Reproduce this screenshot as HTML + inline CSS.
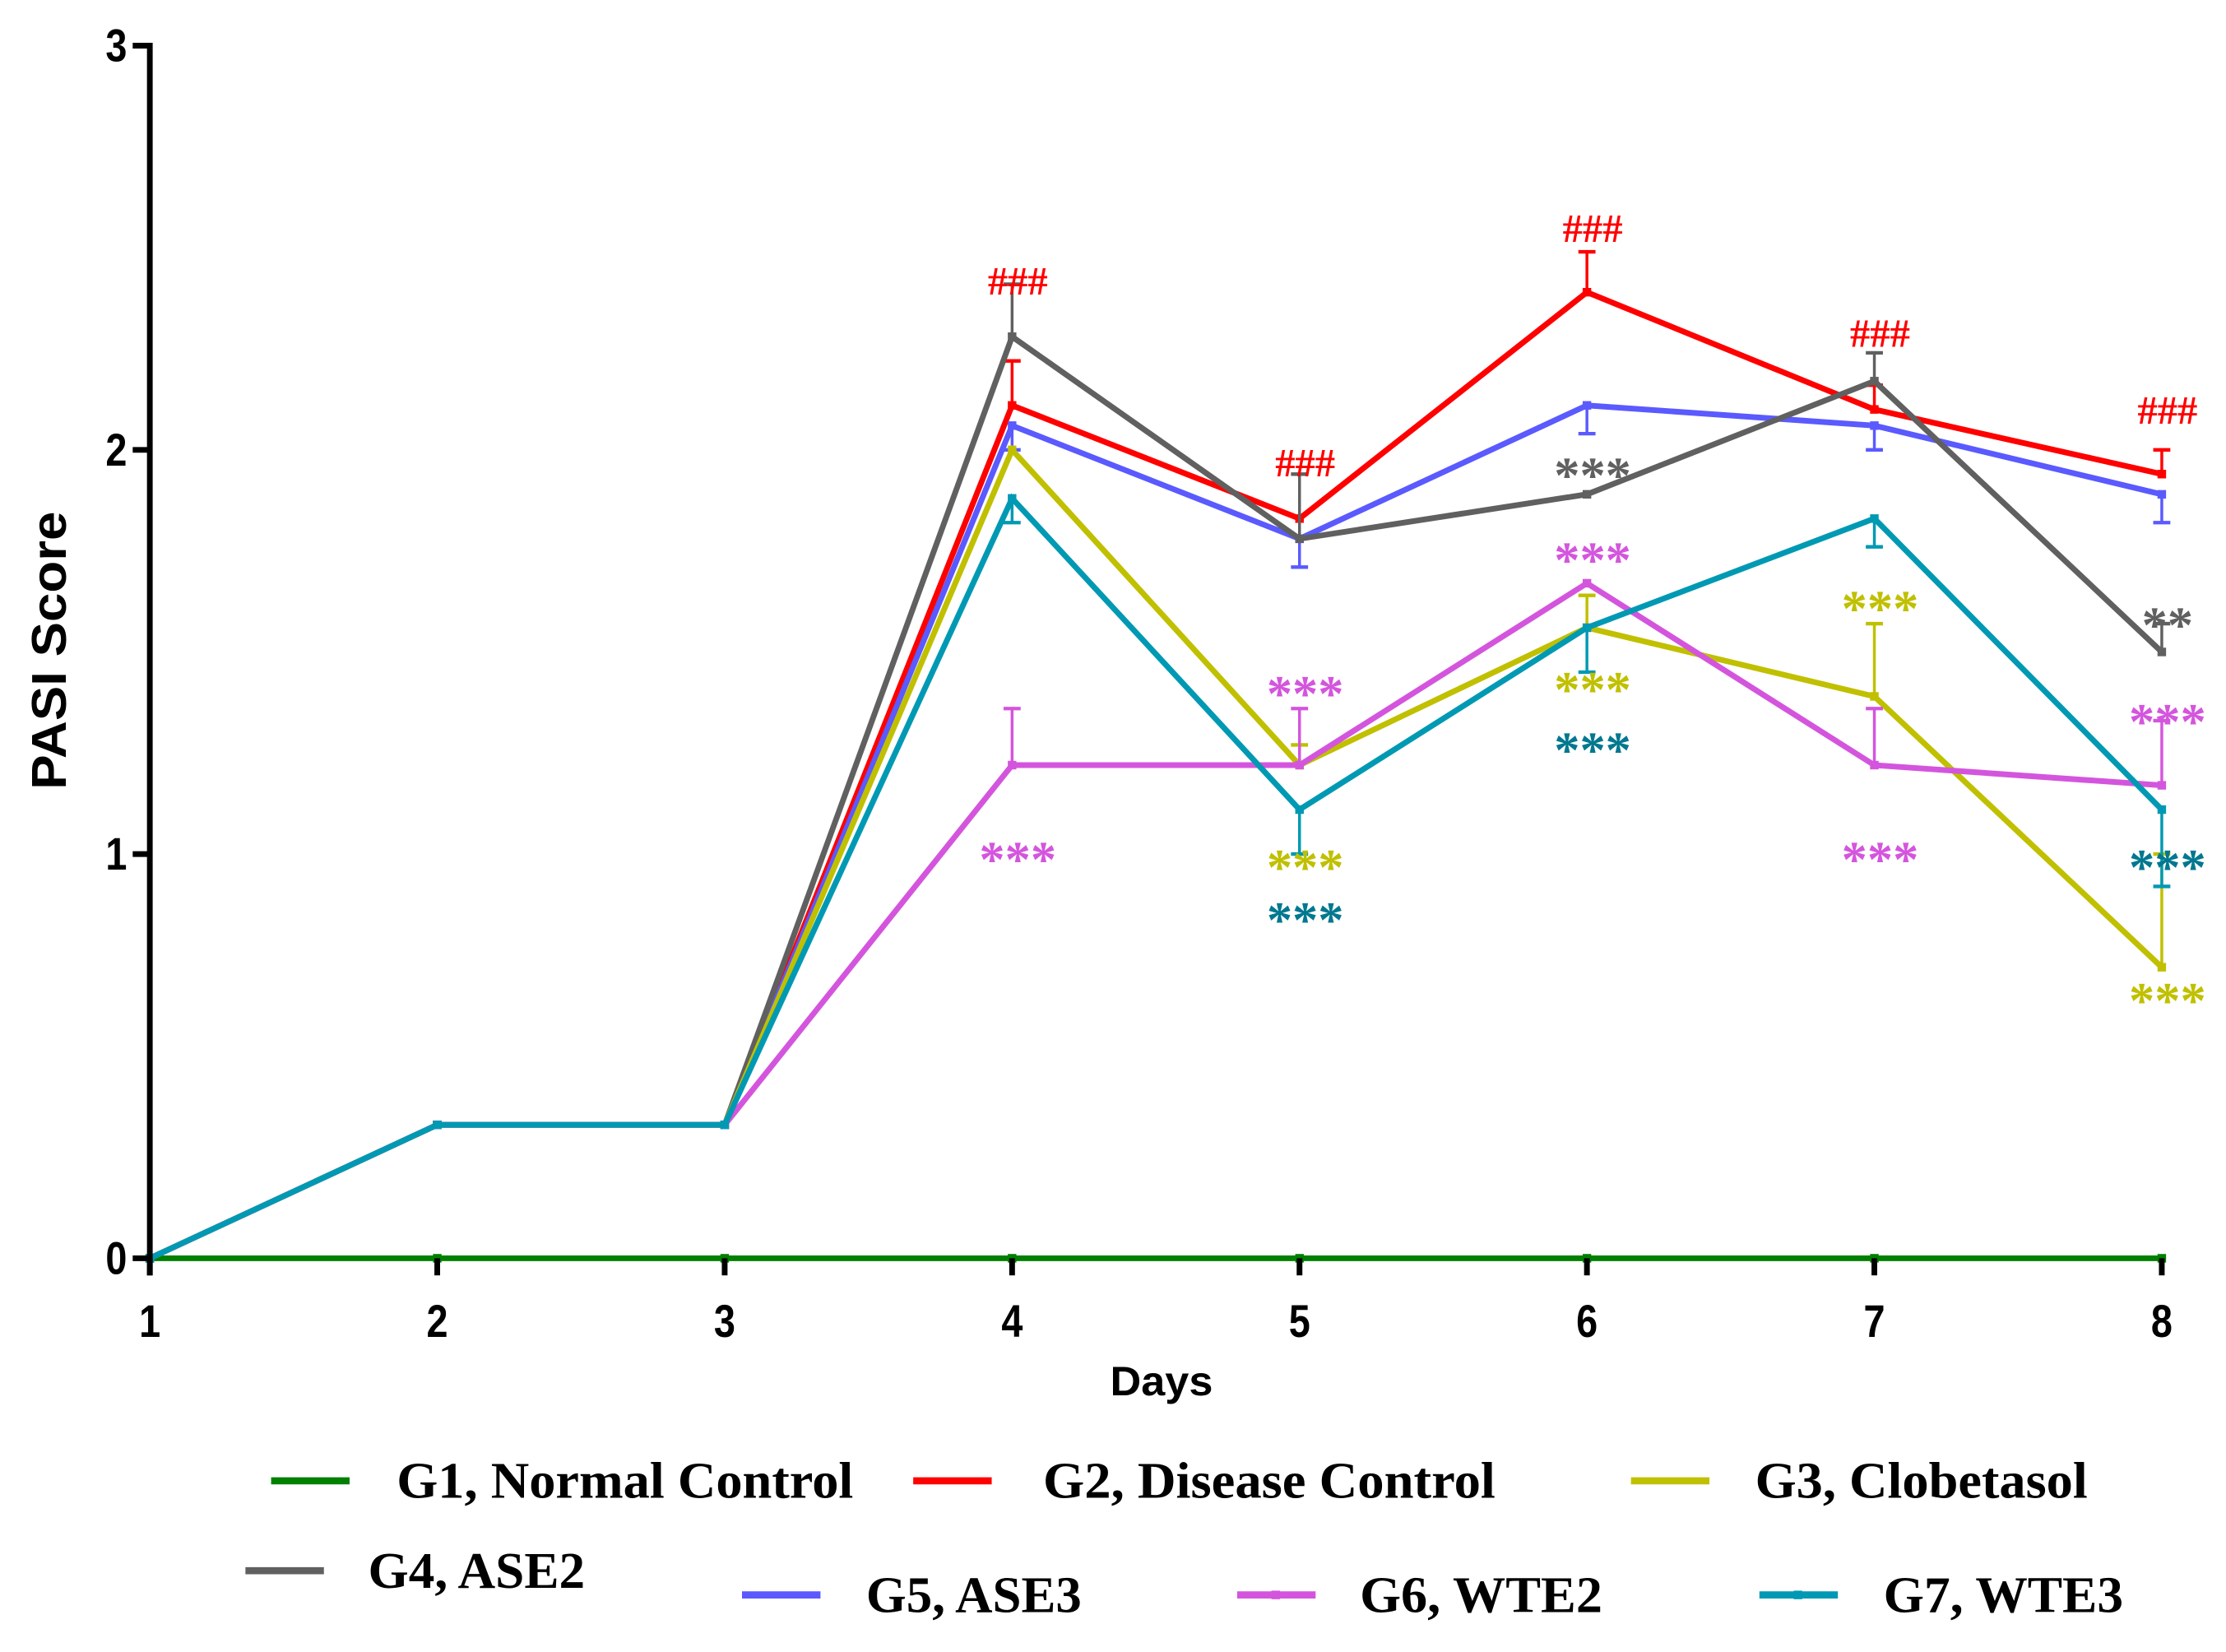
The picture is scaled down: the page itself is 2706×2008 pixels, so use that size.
<!DOCTYPE html>
<html><head><meta charset="utf-8"><style>
html,body{margin:0;padding:0;background:#fff;}
svg{display:block;}
</style></head><body>
<svg id="chart" width="2706" height="2008" viewBox="0 0 1560 1158" preserveAspectRatio="none" xmlns="http://www.w3.org/2000/svg">
<g id="plot"></g>
<g id="axes"></g>
<g id="annots"></g>
<g id="legend"></g>
</svg>
<script>
const days = [1,2,3,4,5,6,7,8];
const yTicks = [0,1,2,3];
const g1 = [0,0,0,0,0,0,0,0];
const g2 = [0,0.33,0.33,2.11,1.83,2.39,2.10,1.94];
const g3 = [0,0.33,0.33,2.00,1.22,1.56,1.39,0.72];
const g4 = [0,0.33,0.33,2.28,1.78,1.89,2.17,1.50];
const g5 = [0,0.33,0.33,2.06,1.78,2.11,2.06,1.89];
const g6 = [0,0.33,0.33,1.22,1.22,1.67,1.22,1.17];
const g7 = [0,0.33,0.33,1.88,1.11,1.56,1.83,1.11];
const g2err = [0,0,0,0.11,0,0.10,0.06,0.06];
const g3err = [0,0,0,0,0.05,0.08,0.18,0.28];
const g4err = [0,0,0,0.13,0.16,0,0.07,0.07];
const g5err = [0,0,0,-0.06,-0.07,-0.07,-0.06,-0.07];
const g6err = [0,0,0,0.14,0.14,0,0.14,0.16];
const g7err = [0,0,0,-0.06,-0.11,-0.11,-0.07,-0.19];
const seriesNames = ["G1, Normal Control","G2, Disease Control","G3, Clobetasol","G4, ASE2","G5, ASE3","G6, WTE2","G7, WTE3"];
const annotDay = [4,5,6,7,8, 6,8, 4,5,6,7,8, 5,6,7,8, 5,6,8];
const annotVal = [2.42,1.97,2.55,2.29,2.10, 1.93,1.56, 0.98,1.39,1.72,0.98,1.32, 0.96,1.40,1.60,0.63, 0.83,1.25,0.96];
const annotText = ["###","###","###","###","###", "***","**", "***","***","***","***","***", "***","***","***","***", "***","***","***"];
const annotSeries = [1,1,1,1,1, 3,3, 5,5,5,5,5, 2,2,2,2, 6,6,6];

const colors = ["#008000","#ff0000","#c0c000","#606060","#5a5aff","#d455dd","#0099b3"];
const annotColors = ["#008000","#ff0000","#c0c000","#606060","#5a5aff","#d455dd","#00788f"];
const NS="http://www.w3.org/2000/svg";
const x0=105,x1=1515,y0=882,y3=32;
function xs(d){return x0+(d-1)*(x1-x0)/7;}
function ys(v){return y0-(v/3)*(y0-y3);}
function mk(tag,parent,attrs){const e=document.createElementNS(NS,tag);for(const k in attrs)e.setAttribute(k,attrs[k]);parent.appendChild(e);return e;}
const plot=document.getElementById('plot'),axes=document.getElementById('axes'),annots=document.getElementById('annots'),legend=document.getElementById('legend');
const all=[g1,g2,g3,g4,g5,g6,g7];
const errs=[null,g2err,g3err,g4err,g5err,g6err,g7err];
[0,1,4,3,2,5,6].forEach(i=>{
  const s=all[i];const c=colors[i];
  const g=mk('g',plot,{});
  
  
  if(errs[i]){
    errs[i].forEach((e,j)=>{
      if(e===0)return;
      const x=xs(days[j]),ya=ys(s[j]),yb=ys(s[j]+e);
      const l=mk('line',g,{x1:x,y1:ya,x2:x,y2:yb,stroke:c,'stroke-width':2});
      
      
      const cap=mk('line',g,{x1:x-6,y1:yb,x2:x+6,y2:yb,stroke:c,'stroke-width':2.5});
      
      
    });
  }
  const pts=s.map((v,j)=>xs(days[j])+','+ys(v)).join(' ');
  const pl=mk('polyline',g,{points:pts,fill:'none',stroke:c,'stroke-width':4,'stroke-linejoin':'miter'});
  
  
  s.forEach((v,j)=>{
    const m=mk('rect',g,{x:xs(days[j])-3,y:ys(v)-3,width:6,height:6,fill:c});
    
    
  });
});
const ya=mk('line',axes,{x1:x0,y1:y3-2,x2:x0,y2:y0+12,stroke:'#000','stroke-width':4});


yTicks.forEach(t=>{
  const l=mk('line',axes,{x1:x0-12,y1:ys(t),x2:x0,y2:ys(t),stroke:'#000','stroke-width':4});
  
  
  const tx=mk('text',axes,{x:x0-16,y:ys(t)+11,'text-anchor':'end','font-family':'Liberation Sans, sans-serif','font-weight':'bold','font-size':32,textLength:15,lengthAdjust:'spacingAndGlyphs'});
  tx.textContent=t;
  
  
});
days.forEach(d=>{
  const l=mk('line',axes,{x1:xs(d),y1:y0,x2:xs(d),y2:y0+12,stroke:'#000','stroke-width':4});
  
  
  const tx=mk('text',axes,{x:xs(d),y:y0+55,'text-anchor':'middle','font-family':'Liberation Sans, sans-serif','font-weight':'bold','font-size':32,textLength:15,lengthAdjust:'spacingAndGlyphs'});
  tx.textContent=d;
  
  
});
const yt=mk('text',axes,{x:0,y:0,transform:'translate(46,456) rotate(-90)','text-anchor':'middle','font-family':'Liberation Sans, sans-serif','font-weight':'bold','font-size':34,textLength:195,lengthAdjust:'spacingAndGlyphs'});
yt.textContent='PASI Score';


const xt=mk('text',axes,{x:814,y:978,'text-anchor':'middle','font-family':'Liberation Sans, sans-serif','font-weight':'bold','font-size':29,textLength:72,lengthAdjust:'spacingAndGlyphs'});
xt.textContent='Days';


annotText.forEach((t,k)=>{
  const tx=mk('text',annots,{x:xs(annotDay[k])+4,y:ys(annotVal[k])+10,'text-anchor':'middle','font-family':'Liberation Serif, serif','font-weight':'bold','font-size':t==='###'?28:36,fill:annotColors[annotSeries[k]]});
  tx.textContent=t;
  
  
});
const legPos=[[190,1038,278,320],[640,1038,731,317],[1143,1038,1230,233],[172,1101,258,152],[520,1118,607,151],[867,1118,953,170],[1233,1118,1320,168]];
legPos.forEach((p,i)=>{
  const g=mk('g',legend,{});
  
  
  mk('line',g,{x1:p[0],y1:p[1],x2:p[0]+55,y2:p[1],stroke:colors[i],'stroke-width':5});
  if(i>=5)mk('rect',g,{x:p[0]+24,y:p[1]-3,width:6,height:6,fill:colors[i]});
  const tx=mk('text',g,{x:p[2],y:p[1]+12,'font-family':'Liberation Serif, serif','font-weight':'bold','font-size':36,textLength:p[3],lengthAdjust:'spacingAndGlyphs'});
  tx.textContent=seriesNames[i];
});
</script>
</body></html>
